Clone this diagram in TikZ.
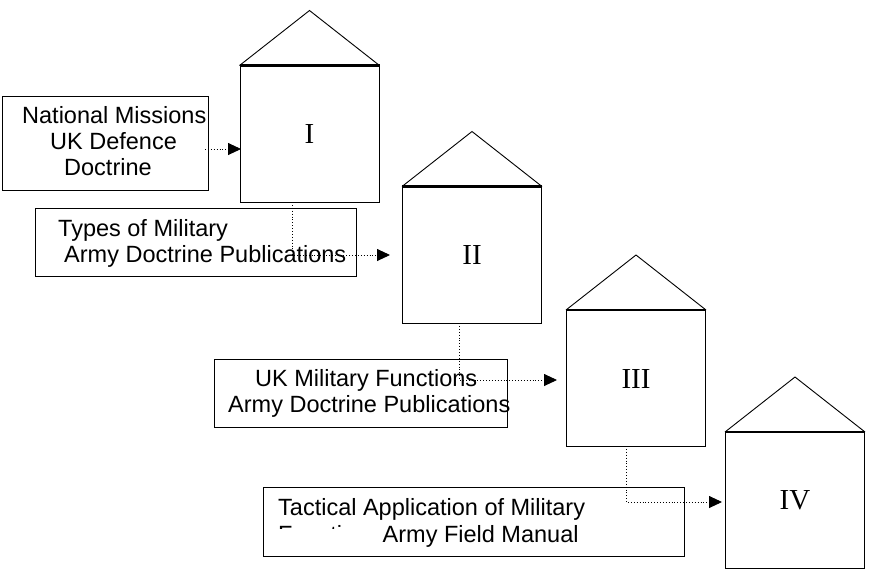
\documentclass[tikz,border=0pt]{standalone}
\usepackage{fontspec}
\setmainfont{Liberation Sans}
\newfontfamily\numfont{Liberation Serif}
\usetikzlibrary{arrows.meta}
\begin{document}
\begin{tikzpicture}[x=1pt,y=-1pt,
  house/.style={draw,line width=1pt,fill=white,inner sep=0pt,minimum width=139pt,minimum height=136pt,font=\numfont\fontsize{29}{32}\selectfont},
  lbox/.style={draw,line width=1pt,fill=white,inner sep=0pt},
  txt/.style={anchor=base west,inner sep=0pt,font=\fontsize{23.5}{26}\selectfont},
  roof/.style={line width=0.9pt},
  conn/.style={dotted,line width=0.9pt,-{Triangle[length=13pt,width=12pt]}}]
\useasboundingbox (0,0) rectangle (872,574);
% label boxes
\node[lbox,minimum width=206pt,minimum height=94pt] (A) at (105,143) {};
\node[lbox,minimum width=321pt,minimum height=68pt] (B) at (195.5,242) {};
\node[lbox,minimum width=293pt,minimum height=68pt] (C) at (360.5,393) {};
\node[lbox,minimum width=421pt,minimum height=69pt] (D) at (473.5,521.5) {};
\node[txt] (t1) at (22,123.5) {National Missions};
\node[txt] (t2) at (50,149.5) {UK Defence};
\node[txt] (t3) at (64,175) {Doctrine};
\node[txt] (t4) at (58,236.7) {Types of Military};
\node[txt] (t5) at (64,262.3) {Army Doctrine Publications};
\node[txt] (t6) at (255,386.7) {UK Military Functions};
\node[txt] (t7) at (228,412.7) {Army Doctrine Publications};
\node[txt] (t8) at (278,515) {Tactical Application of Military};
\node[txt] (t9) at (382.5,542.7) {Army Field Manual};
\begin{scope}
\clip (270,524) rectangle (380,528.5);
\node[txt] (t10) at (278,542.7) {Functions};
\end{scope}
% houses
\node[house] (h1) at (309.5,134) {I};
\node[house] (h2) at (472,255) {II};
\node[house] (h3) at (636,378.5) {III};
\node[house] (h4) at (795,500.5) {IV};
\foreach \h in {h1,h2,h3,h4}{
  \draw[roof] (\h.north west) -- ([yshift=55pt]\h.north) -- (\h.north east);
  \draw[line width=2.2pt] (\h.north west) -- (\h.north east);
}
% connectors
\coordinate (s1) at (205,149);
\coordinate (e1) at (241,149);
\coordinate (s2) at (292,202);
\coordinate (e2) at (390,255);
\coordinate (s3) at (459,323);
\coordinate (e3) at (557,380);
\coordinate (s4) at (626,446);
\coordinate (e4) at (722,502);
\draw[conn] (s1) -- (e1);
\draw[conn] (s2) |- (e2);
\draw[conn] (s3) |- (e3);
\draw[conn] (s4) |- (e4);
\end{tikzpicture}
\end{document}
